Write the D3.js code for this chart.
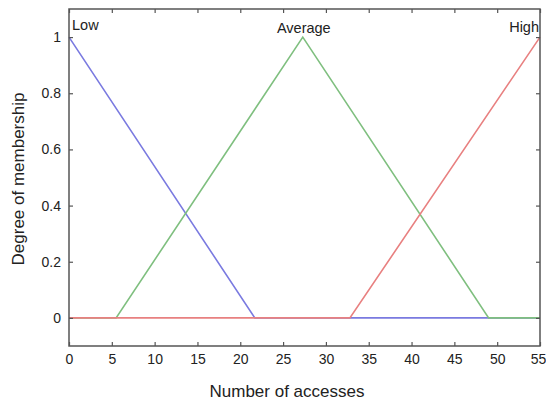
<!DOCTYPE html>
<html>
<head>
<meta charset="utf-8">
<script src="https://cdn.jsdelivr.net/npm/d3@7"></script>
<style>
  body { margin: 0; background: #fff; }
  svg { font-family: "Liberation Sans", Arial, sans-serif; }
</style>
</head>
<body>
<svg id="chart" width="546" height="403"></svg>
<script>
// membership functions, as [x, degree] points
var lowPts = [[0, 1], [21.7, 0], [55, 0]],
avgPts = [[0, 0], [5.5, 0], [27.3, 1], [49, 0], [55, 0]],
highPts = [[0, 0], [32.8, 0], [55, 1]];

var setNames = ['Low', 'Average', 'High'],
setColors = ['#7a7ae0', '#7fbf7f', '#e88080'];

var xTicks = [0, 5, 10, 15, 20, 25, 30, 35, 40, 45, 50, 55],
yTicks = [0, 0.2, 0.4, 0.6, 0.8, 1];

var pLeft = 69, pRight = 540, pTop = 9, pBottom = 346;

var svg = d3.select('#chart');

var xScale = d3.scaleLinear().domain([0, 55]).range([pLeft, pRight]);
var yScale = d3.scaleLinear().domain([-0.1, 1.1]).range([pBottom, pTop]);

var line = d3.line().
x(d => xScale(d[0])).
y(d => yScale(d[1]));

// draw order: blue, green, red (red sits on top along zero)
[lowPts, avgPts, highPts].forEach(function (pts, i) {
  svg.append('path').
  attr('d', line(pts)).
  attr('fill', 'none').
  attr('stroke', setColors[i]).
  attr('stroke-width', 1.6);
});

// frame with inward ticks on every side
function styleAxis(g) {
  g.select('.domain').remove();
  g.selectAll('.tick line').attr('stroke', '#555').attr('stroke-width', 1.2);
  g.selectAll('.tick text').attr('fill', '#222').style('font-size', '14px');
}

var xAxisG = svg.append('g').
attr('transform', 'translate(0,' + pBottom + ')').
call(d3.axisBottom(xScale).tickValues(xTicks).tickSize(-4).tickPadding(8)).
call(styleAxis);
// keep the last label inside the page
xAxisG.selectAll('.tick text').filter(d => d === 55).attr('dx', -2);

svg.append('g').
attr('transform', 'translate(0,' + pTop + ')').
call(d3.axisTop(xScale).tickValues(xTicks).tickSize(-4).tickFormat('')).
call(styleAxis);

svg.append('g').
attr('transform', 'translate(' + pLeft + ',0)').
call(d3.axisLeft(yScale).tickValues(yTicks).tickSize(-4).tickPadding(8).tickFormat(d3.format('~g'))).
call(styleAxis);

svg.append('g').
attr('transform', 'translate(' + pRight + ',0)').
call(d3.axisRight(yScale).tickValues(yTicks).tickSize(-4).tickFormat('')).
call(styleAxis);

svg.append('rect').
attr('x', pLeft).
attr('y', pTop).
attr('width', pRight - pLeft).
attr('height', pBottom - pTop).
attr('fill', 'none').
attr('stroke', '#555').
attr('stroke-width', 1.5);

// set labels
svg.append('text').attr('x', xScale(0) + 3).attr('y', 30).
style('font-size', '14.5px').attr('fill', '#222').text(setNames[0]);
svg.append('text').attr('x', xScale(27.3) + 1).attr('y', 33).attr('text-anchor', 'middle').
style('font-size', '14.5px').attr('fill', '#222').text(setNames[1]);
svg.append('text').attr('x', xScale(55) - 1).attr('y', 32).attr('text-anchor', 'end').
style('font-size', '14.5px').attr('fill', '#222').text(setNames[2]);

// axis titles
svg.append('text').
attr('x', 287).
attr('y', 397).
attr('text-anchor', 'middle').
style('font-size', '17px').
attr('fill', '#222').
text('Number of accesses');

svg.append('text').
attr('transform', 'translate(24,179) rotate(-90)').
attr('text-anchor', 'middle').
style('font-size', '17px').
attr('fill', '#222').
text('Degree of membership');
</script>
</body>
</html>
